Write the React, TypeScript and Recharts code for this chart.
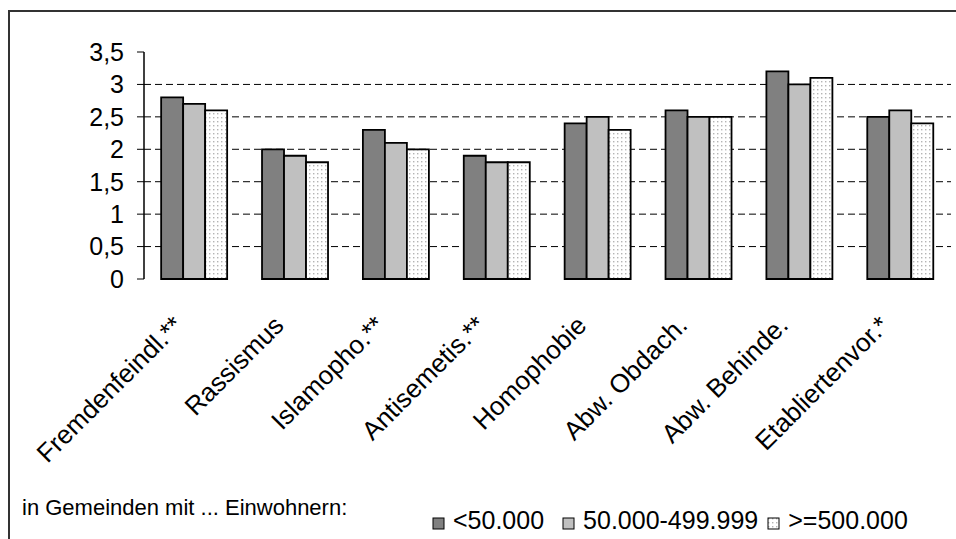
import React from 'react';
import { BarChart, Bar, XAxis, YAxis, CartesianGrid } from 'recharts';

const categories = [
  'Fremdenfeindl.**',
  'Rassismus',
  'Islamopho.**',
  'Antisemetis.**',
  'Homophobie',
  'Abw. Obdach.',
  'Abw. Behinde.',
  'Etabliertenvor.*',
];
const seriesSmall = [2.8, 2.0, 2.3, 1.9, 2.4, 2.6, 3.2, 2.5];
const seriesMedium = [2.7, 1.9, 2.1, 1.8, 2.5, 2.5, 3.0, 2.6];
const seriesLarge = [2.6, 1.8, 2.0, 1.8, 2.3, 2.5, 3.1, 2.4];
const seriesNames = ['<50.000', '50.000-499.999', '>=500.000'];
const seriesKeys = ['small', 'medium', 'large'];
const seriesFills = ['#808080', '#c0c0c0', 'url(#dots)'];
const yTicks = [0, 0.5, 1, 1.5, 2, 2.5, 3, 3.5];
const gridValues = [0.5, 1, 1.5, 2, 2.5, 3];
const legendTitle = 'in Gemeinden mit ... Einwohnern:';

const edgeTicks = [...categories.map((_, i) => i), categories.length];

const data = categories.map((name, i) => ({
  name,
  small: seriesSmall[i],
  medium: seriesMedium[i],
  large: seriesLarge[i],
}));

const FONT = '"Liberation Sans", Arial, Helvetica, sans-serif';
const fmt = (v: number) => String(v).replace('.', ',');

function XTick(props: any) {
  const { x, y, payload } = props;
  return (
    <g transform={`translate(${x - 10},${y + 40})`}>
      <text
        x={0}
        y={0}
        textAnchor="end"
        transform="rotate(-45)"
        fontSize={26}
        fontFamily={FONT}
        fill="#000"
      >
        {payload.value}
      </text>
    </g>
  );
}

function LegendSwatch({ fill }: { fill: string }) {
  return (
    <svg width={13} height={13} style={{ marginRight: 8, alignSelf: 'flex-end', marginBottom: 5 }}>
      <defs>
        <pattern id="dotsLegend" width="4" height="4" patternUnits="userSpaceOnUse">
          <rect width="4" height="4" fill="#fff" />
          <rect x="1" y="1" width="1.4" height="1.4" fill="#b4b4b4" />
        </pattern>
      </defs>
      <rect
        x={1}
        y={1}
        width={11}
        height={11}
        fill={fill === 'url(#dots)' ? 'url(#dotsLegend)' : fill}
        stroke="#000"
        strokeWidth={1}
      />
    </svg>
  );
}

const legendGaps = [18, 9, 0];

export default function App() {
  const gridGen = (p: any) => {
    const ax = p && p.yAxis;
    if (ax && typeof ax.scale === 'function') {
      return gridValues.map((v) => ax.scale(v));
    }
    const off = p.offset;
    return gridValues.map((v) => off.top + off.height * (1 - v / 3.5));
  };

  return (
    <div
      style={{
        position: 'absolute',
        left: 0,
        top: 0,
        width: 956,
        height: 539,
        background: '#fff',
        overflow: 'hidden',
        fontFamily: FONT,
      }}
    >
      <div
        style={{
          position: 'absolute',
          left: 8,
          top: 10,
          width: 1000,
          height: 600,
          borderLeft: '2px solid #333',
          borderTop: '2px solid #333',
        }}
      />
      <div style={{ position: 'absolute', left: 0, top: 0 }}>
        <BarChart
          width={956}
          height={539}
          data={data}
          margin={{ top: 52, right: 5, bottom: 110, left: 0 }}
          barCategoryGap="17%"
          barGap={0}
        >
          <defs>
            <pattern id="dots" width="4" height="4" patternUnits="userSpaceOnUse">
              <rect width="4" height="4" fill="#fff" />
              <rect x="1" y="1" width="1.4" height="1.4" fill="#b4b4b4" />
            </pattern>
          </defs>
          <CartesianGrid
            vertical={false}
            stroke="#000"
            strokeWidth={1}
            strokeDasharray="7 4"
            horizontalCoordinatesGenerator={gridGen}
          />
          <XAxis
            xAxisId="edges"
            type="number"
            domain={[0, categories.length]}
            ticks={edgeTicks}
            tick={false}
            tickLine={{ stroke: '#000', strokeWidth: 1 }}
            tickSize={7}
            axisLine={{ stroke: '#888', strokeWidth: 2 }}
            height={0}
            allowDataOverflow
          />
          <XAxis
            dataKey="name"
            interval={0}
            tickLine={false}
            axisLine={false}
            tick={<XTick />}
            height={150}
          />
          <XAxis
            xAxisId="top"
            orientation="top"
            type="number"
            domain={[0, categories.length]}
            tick={false}
            tickLine={false}
            axisLine={{ stroke: '#999', strokeWidth: 2 }}
            height={0}
            allowDataOverflow
          />
          <YAxis
            domain={[0, 3.5]}
            ticks={yTicks}
            interval={0}
            tickFormatter={fmt}
            tickSize={7}
            tickMargin={13}
            tickLine={{ stroke: '#000' }}
            axisLine={{ stroke: '#000', strokeWidth: 1.5 }}
            tick={{ fontSize: 25, fontFamily: FONT, fill: '#000' }}
            width={144}
          />
          <YAxis
            yAxisId="right"
            orientation="right"
            domain={[0, 3.5]}
            tick={false}
            tickLine={false}
            axisLine={{ stroke: '#999', strokeWidth: 2 }}
            width={0}
          />
          {seriesKeys.map((k, i) => (
            <Bar
              key={k}
              dataKey={k}
              name={seriesNames[i]}
              fill={seriesFills[i]}
              stroke="#000"
              strokeWidth={1.8}
              isAnimationActive={false}
            />
          ))}
        </BarChart>
      </div>
      <div
        style={{
          position: 'absolute',
          left: 22,
          top: 495,
          fontSize: 22,
          color: '#000',
          whiteSpace: 'nowrap',
        }}
      >
        {legendTitle}
      </div>
      <div
        style={{
          position: 'absolute',
          left: 432,
          top: 506,
          display: 'flex',
          alignItems: 'flex-end',
          fontSize: 25,
          color: '#000',
          whiteSpace: 'nowrap',
        }}
      >
        {seriesNames.map((n, i) => (
          <div key={n} style={{ display: 'flex', alignItems: 'flex-end', marginRight: legendGaps[i] }}>
            <LegendSwatch fill={seriesFills[i]} />
            <span>{n}</span>
          </div>
        ))}
      </div>
    </div>
  );
}
